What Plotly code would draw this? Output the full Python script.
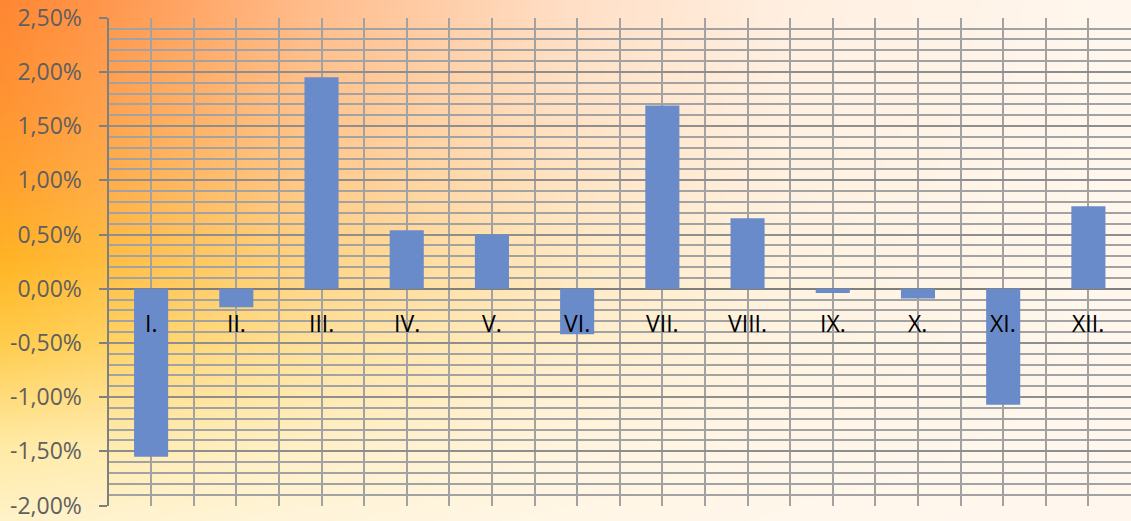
import base64
import struct
import zlib

import plotly.graph_objects as go

# ---- data ----
categories = ["I.", "II.", "III.", "IV.", "V.", "VI.", "VII.", "VIII.", "IX.", "X.", "XI.", "XII."]
values_pct = [-1.55, -0.17, 1.95, 0.54, 0.50, -0.42, 1.69, 0.65, -0.04, -0.09, -1.07, 0.76]
y_tick_vals = [-2.0, -1.5, -1.0, -0.5, 0.0, 0.5, 1.0, 1.5, 2.0, 2.5]
y_tick_text = ["-2,00%", "-1,50%", "-1,00%", "-0,50%", "0,00%", "0,50%", "1,00%", "1,50%", "2,00%", "2,50%"]

W, H = 1131, 521
x_positions = list(range(len(categories)))


# ---- background gradient image (decoration only) ----
def _interp(stops, t):
    for (t0, c0), (t1, c1) in zip(stops, stops[1:]):
        if t <= t1:
            f = 0 if t1 == t0 else (t - t0) / (t1 - t0)
            return tuple(a + (b - a) * f for a, b in zip(c0, c1))
    return stops[-1][1]


def _hex(h):
    h = h.lstrip("#")
    return tuple(int(h[i:i + 2], 16) for i in (0, 2, 4))


v_stops = [(0.0, _hex("#FF8733")), (0.2, _hex("#FF9432")), (0.38, _hex("#FFA52C")),
           (0.5, _hex("#FFB424")), (0.65, _hex("#FFCB48")), (0.85, _hex("#FFE9A2")),
           (1.0, _hex("#FFF2C8"))]  # t = 0 top
a_stops = [(0.0, (0.0,)), (0.08, (0.12,)), (0.27, (0.47,)), (0.5, (0.78,)),
           (0.7, (0.93,)), (1.0, (1.0,))]
cream = _hex("#FFF7EE")


def _bg_png(w, h):
    rows = []
    for j in range(h):
        vc = _interp(v_stops, j / (h - 1))
        row = bytearray([0])
        for i in range(w):
            a = _interp(a_stops, i / (w - 1))[0]
            row += bytes(int(round(vc[k] * (1 - a) + cream[k] * a)) for k in range(3))
        rows.append(bytes(row))
    raw = b"".join(rows)

    def chunk(tag, data):
        c = tag + data
        return struct.pack(">I", len(data)) + c + struct.pack(">I", zlib.crc32(c) & 0xFFFFFFFF)

    png = b"\x89PNG\r\n\x1a\n" + chunk(b"IHDR", struct.pack(">IIBBBBB", w, h, 8, 2, 0, 0, 0))
    png += chunk(b"IDAT", zlib.compress(raw, 9)) + chunk(b"IEND", b"")
    return "data:image/png;base64," + base64.b64encode(png).decode()


bg_src = _bg_png(283, 131)

fig = go.Figure()

fig.add_trace(go.Bar(
    x=x_positions, y=values_pct, width=0.4,
    marker=dict(color="#6A8BC9", line=dict(width=0)),
    showlegend=False, hoverinfo="skip"))

for xp, lab in zip(x_positions, categories):
    fig.add_annotation(x=xp, y=0, text=lab, showarrow=False,
                       yanchor="top", xanchor="center", yshift=-16,
                       font=dict(family="Open Sans", size=23, color="#000000"))

fig.add_layout_image(dict(source=bg_src, xref="paper", yref="paper", x=0, y=1,
                          sizex=1, sizey=1, xanchor="left", yanchor="top",
                          sizing="stretch", layer="below"))

grid_col = "#A2A2A2"
y_dom = [1 - 505.5 / H, 1 - 17.7 / H]

fig.update_layout(
    width=W, height=H,
    margin=dict(l=0, r=0, t=0, b=0),
    paper_bgcolor="#FFF6EC", plot_bgcolor="rgba(0,0,0,0)",
    template="none",
    showlegend=False,
    xaxis=dict(
        domain=[108.5 / W, 1], range=[-0.5, len(categories) - 0.5],
        tickmode="linear", tick0=-0.5, dtick=0.5,
        ticks="", showticklabels=False, showline=False, zeroline=False,
        showgrid=True, gridcolor=grid_col, gridwidth=2,
        automargin=False, fixedrange=True),
    yaxis=dict(
        domain=y_dom, range=[-2.0, 2.5],
        tickmode="array", tickvals=y_tick_vals, ticktext=y_tick_text,
        ticks="outside", ticklen=8, tickwidth=2, tickcolor="#7F7F7F",
        ticklabelstandoff=12,
        tickfont=dict(family="Open Sans", size=23, color="#5F5F5F"),
        showline=True, linecolor="#7F7F7F", linewidth=2,
        showgrid=True, gridcolor="#8E8E8E", gridwidth=2,
        zeroline=True, zerolinecolor="#7F7F7F", zerolinewidth=2,
        minor=dict(tickmode="linear", tick0=0, dtick=0.1, showgrid=True,
                   gridcolor=grid_col, gridwidth=2, ticks=""),
        automargin=False, fixedrange=True),
)

fig.write_html("out.html")
